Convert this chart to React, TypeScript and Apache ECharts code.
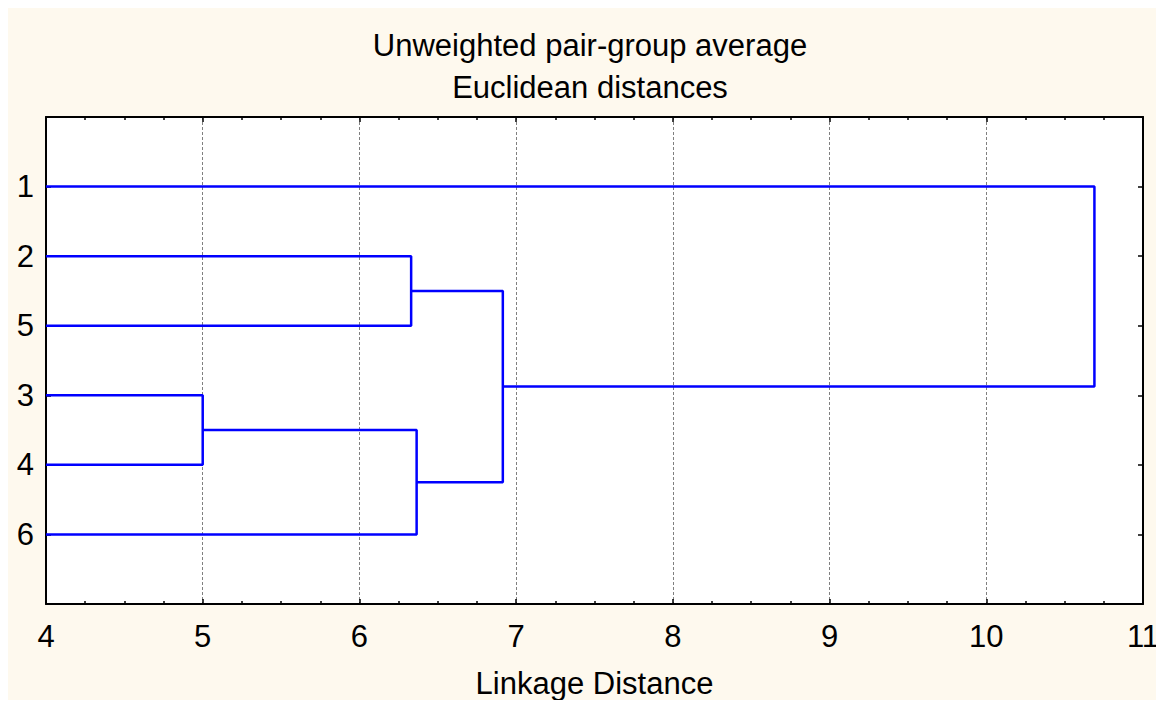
import React, { useEffect, useRef } from "react";
import * as echarts from "echarts";

// Leaf order from top to bottom (positions 1..6 on the vertical axis)
const leafLabels = ["1", "2", "5", "3", "4", "6"];
// Merges: indices < 6 are leaves (by position index), >= 6 are earlier merges
const mergeLeft = [3, 1, 6, 7, 0];
const mergeRight = [4, 2, 5, 8, 9];
const mergeHeight = [5.0, 6.33, 6.365, 6.915, 10.69];
const xTicks = [4, 5, 6, 7, 8, 9, 10, 11];
const titleLines = ["Unweighted pair-group average", "Euclidean distances"];
const xAxisName = "Linkage Distance";

const FONT = "'Liberation Sans', Arial, sans-serif";

function buildLinks() {
  const nodeX: number[] = [];
  const nodeY: number[] = [];
  leafLabels.forEach((_, i) => {
    nodeX.push(xTicks[0]);
    nodeY.push(i + 1);
  });
  const links: number[][][] = [];
  mergeHeight.forEach((h, k) => {
    const a = mergeLeft[k];
    const b = mergeRight[k];
    links.push([
      [nodeX[a], nodeY[a]],
      [h, nodeY[a]],
      [h, nodeY[b]],
      [nodeX[b], nodeY[b]],
    ]);
    nodeX.push(h);
    nodeY.push((nodeY[a] + nodeY[b]) / 2);
  });
  return links;
}

export default function App() {
  const ref = useRef<HTMLDivElement>(null);
  useEffect(() => {
    if (!ref.current) return;
    document.documentElement.style.overflow = "hidden";
    document.body.style.overflow = "hidden";
    const chart = echarts.init(ref.current, undefined, { renderer: "svg" });
    const links = buildLinks();
    const xMin = xTicks[0];
    const xMax = xTicks[xTicks.length - 1];
    const axisLine = { show: true, onZero: false, lineStyle: { color: "#000", width: 2 } };
    const tick = { show: true, inside: true, length: 5, lineStyle: { color: "#000", width: 1.5 } };
    const minor = { show: true, splitNumber: 4, length: 3, lineStyle: { color: "#000", width: 1.5 } };
    const yFormatter = (v: number) =>
      v >= 1 && v <= leafLabels.length && Number.isInteger(v) ? leafLabels[v - 1] : "";
    chart.setOption({
      animation: false,
      backgroundColor: "transparent",
      graphic: titleLines.map((t, i) => ({
        type: "text",
        x: 582,
        y: 37 + i * 42,
        silent: true,
        style: {
          text: t,
          fontFamily: FONT,
          fontSize: 31,
          fill: "#000",
          align: "center",
          verticalAlign: "middle",
        },
      })),
      grid: {
        left: 38,
        right: 13,
        top: 109,
        bottom: 96,
        show: true,
        backgroundColor: "#ffffff",
        borderWidth: 0,
        outerBoundsMode: "none",
        containLabel: false,
      },
      xAxis: [
        {
          type: "value",
          position: "bottom",
          min: xMin,
          max: xMax,
          interval: 1,
          axisLine,
          axisTick: tick,
          minorTick: minor,
          splitLine: { show: true, lineStyle: { color: "#808080", type: [3, 2], width: 1 } },
          axisLabel: { fontFamily: FONT, fontSize: 31, color: "#000", margin: 17 },
          name: xAxisName,
          nameLocation: "middle",
          nameGap: 64,
          nameTextStyle: { fontFamily: FONT, fontSize: 31, color: "#000" },
        },
        {
          type: "value",
          position: "top",
          min: xMin,
          max: xMax,
          interval: 1,
          axisLine,
          axisTick: tick,
          minorTick: minor,
          splitLine: { show: false },
          axisLabel: { show: false },
        },
      ],
      yAxis: [
        {
          type: "value",
          position: "left",
          min: 0,
          max: leafLabels.length + 1,
          interval: 1,
          inverse: true,
          axisLine,
          axisTick: tick,
          splitLine: { show: false },
          axisLabel: { fontFamily: FONT, fontSize: 31, color: "#000", margin: 12, formatter: yFormatter },
        },
        {
          type: "value",
          position: "right",
          min: 0,
          max: leafLabels.length + 1,
          interval: 1,
          inverse: true,
          axisLine,
          axisTick: tick,
          splitLine: { show: false },
          axisLabel: { show: false },
        },
      ],
      series: links.map((pts) => ({
        type: "line",
        xAxisIndex: 0,
        yAxisIndex: 0,
        data: pts,
        showSymbol: false,
        symbol: "none",
        silent: true,
        lineStyle: { color: "#0000ff", width: 2.5 },
        z: 5,
      })),
    });
    return () => chart.dispose();
  }, []);
  return (
    <div
      ref={ref}
      style={{
        position: "fixed",
        left: 8,
        top: 8,
        width: 1148,
        height: 692,
        background: "#fef9ee",
      }}
    />
  );
}
